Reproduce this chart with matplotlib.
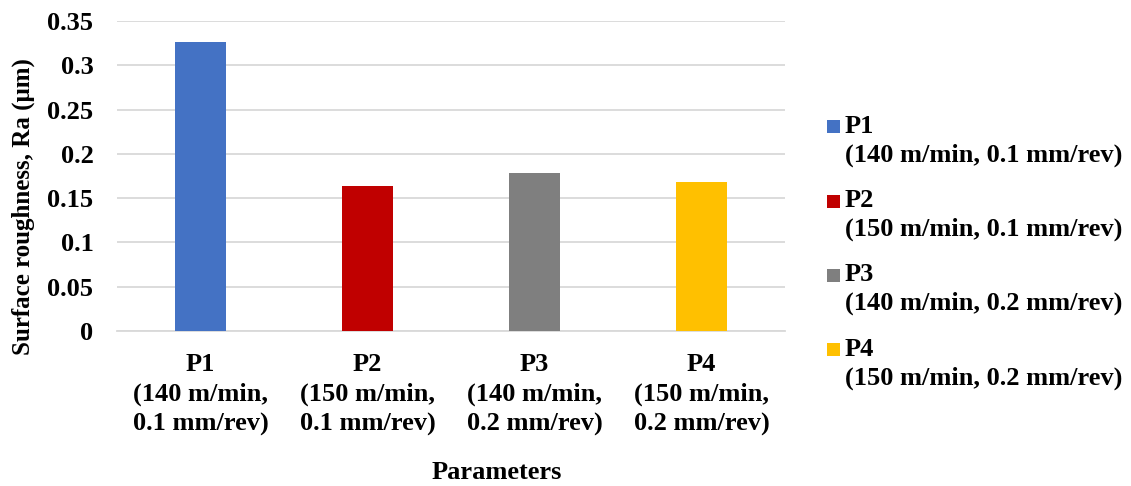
import matplotlib.pyplot as plt
from matplotlib.patches import Rectangle
from matplotlib.legend_handler import HandlerPatch

# data
names = ['P1', 'P2', 'P3', 'P4']
params = ['(140 m/min, 0.1 mm/rev)', '(150 m/min, 0.1 mm/rev)',
          '(140 m/min, 0.2 mm/rev)', '(150 m/min, 0.2 mm/rev)']
ra = [0.326, 0.164, 0.178, 0.168]
colors = ['#4472C4', '#C00000', '#7F7F7F', '#FFC000']

plt.rcParams['font.family'] = ['Liberation Serif', 'DejaVu Serif']
plt.rcParams['font.weight'] = 'bold'

fs = 19

fig = plt.figure(figsize=(11.31, 4.86), dpi=100)
ax = fig.add_axes([117/1131, 1 - 331/486, 668/1131, 310/486])

x = range(len(names))
bars = []
for i in x:
    b = ax.bar(i, ra[i], width=0.31, color=colors[i], zorder=3)
    bars.append(b)

# tick labels split across lines like the original
ticklabels = []
for n, p in zip(names, params):
    a, b = p.split(', ')
    ticklabels.append(n + '\n' + a + ',\n' + b)
ax.set_xticks(list(x))
ax.set_xticklabels(ticklabels, fontsize=fs, fontweight='bold', linespacing=1.36)
ax.set_xlim(-0.5, 3.5)

ax.set_ylim(0, 0.35)
yt = [0, 0.05, 0.1, 0.15, 0.2, 0.25, 0.3, 0.35]
ax.set_yticks(yt)
ax.set_yticklabels(['0', '0.05', '0.1', '0.15', '0.2', '0.25', '0.3', '0.35'],
                   fontsize=fs, fontweight='bold')
ax.yaxis.grid(True, color='#D9D9D9', linewidth=1.3, zorder=0)
ax.tick_params(axis='x', length=0, pad=16)
ax.tick_params(axis='y', length=0, pad=17)
for s in ['top', 'right', 'left']:
    ax.spines[s].set_visible(False)
ax.spines['bottom'].set_color('#D9D9D9')
ax.spines['bottom'].set_linewidth(1.3)

ax.set_xlabel('Parameters', fontsize=fs, fontweight='bold', va='center')
ax.xaxis.set_label_coords(0.569, -0.458)
ax.set_ylabel('Surface roughness, Ra (μm)', fontsize=18, fontweight='bold', va='center')
ax.yaxis.set_label_coords(-0.141, 0.4)


# legend square sits next to the first line of each label
def top_square(legend, orig_handle, xdescent, ydescent, width, height, fontsize):
    return Rectangle((-xdescent, -ydescent + 10.5), width, width)


leg_labels = [n + '\n' + p for n, p in zip(names, params)]
leg = fig.legend([b[0] for b in bars], leg_labels, loc='center left',
                 bbox_to_anchor=(803/1131, 0.481), frameon=False,
                 prop={'size': fs, 'weight': 'bold'}, handlelength=0.49,
                 handleheight=0.49, handletextpad=0.19, labelspacing=0.85,
                 handler_map={Rectangle: HandlerPatch(patch_func=top_square)})
for t in leg.get_texts():
    t.set_linespacing(1.3)

fig.savefig('out.png', dpi=100)
